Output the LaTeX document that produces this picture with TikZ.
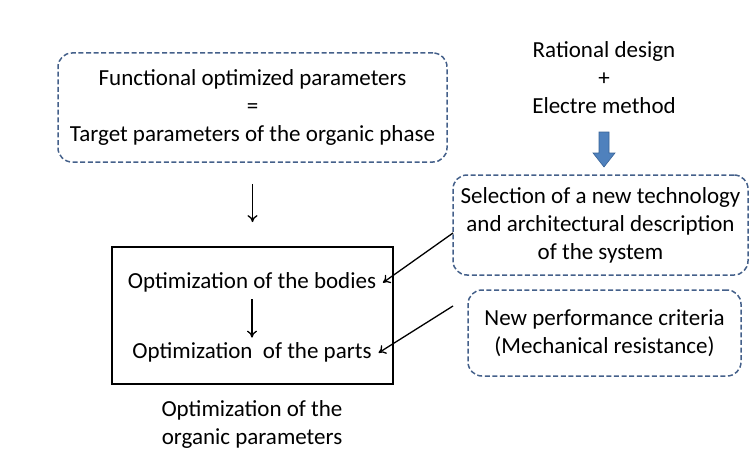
\documentclass[tikz,border=0pt]{standalone}
\usepackage{fontspec}
\setmainfont{Carlito}
\usetikzlibrary{arrows.meta}

\definecolor{dashblue}{RGB}{68,96,138}
\definecolor{arrowblue}{RGB}{79,129,189}
\definecolor{arrowedge}{RGB}{56,98,150}

\begin{document}
\begin{tikzpicture}[x=1pt, y=-1pt,
    every node/.style={font=\fontsize{23}{28}\selectfont, align=center},
    dashbox/.style={draw=dashblue, line width=1.5pt, dash pattern=on 5pt off 2.6pt, rounded corners=14pt, inner sep=0pt},
    arr/.style={-{To[length=7pt,width=10pt]}, line width=1.3pt}]

\useasboundingbox (0,0) rectangle (749,452);

\node[dashbox, minimum width=389pt, minimum height=109pt] (func) at (252.5,107.5)
  {Functional optimized parameters\\=\\Target parameters of the organic phase};

\node (rational) at (604,78) {Rational design\\+\\Electre method};

\node[dashbox, minimum width=295pt, minimum height=100pt] (select) at (600.5,225)
  {Selection of a new technology\\and architectural description\\of the system};

\node[dashbox, minimum width=273pt, minimum height=86pt] (perf) at (604.5,333)
  {New performance criteria\\(Mechanical resistance)};

\node[draw, line width=1.8pt, minimum width=281pt, minimum height=137pt] (optbox) at (252.5,315.5) {};
\node (bodies) at (252,282) {Optimization of the bodies};
\node (parts) at (252,352) {Optimization~~of the parts};

\node (caption) at (252,424) {Optimization of the\\organic parameters};

% connectors
\draw[arr, shorten <=21pt, shorten >=24pt] (func) -- (optbox);
\draw[arr, shorten <=4pt, shorten >=1pt] (bodies) -- (parts);

\coordinate (sstart) at (453,233);
\coordinate (pstart) at (453,306);
\draw[arr, shorten >=4pt] (sstart) -- ([yshift=-3pt]bodies.east);
\draw[arr, shorten >=4pt] (pstart) -- ([yshift=-3pt]parts.east);

\draw[draw=arrowedge, fill=arrowblue, line width=0.6pt]
  (599,132) -- (609,132) -- (609,153) -- (615,153) -- (604,167) -- (593,153) -- (599,153) -- cycle;

\end{tikzpicture}
\end{document}
